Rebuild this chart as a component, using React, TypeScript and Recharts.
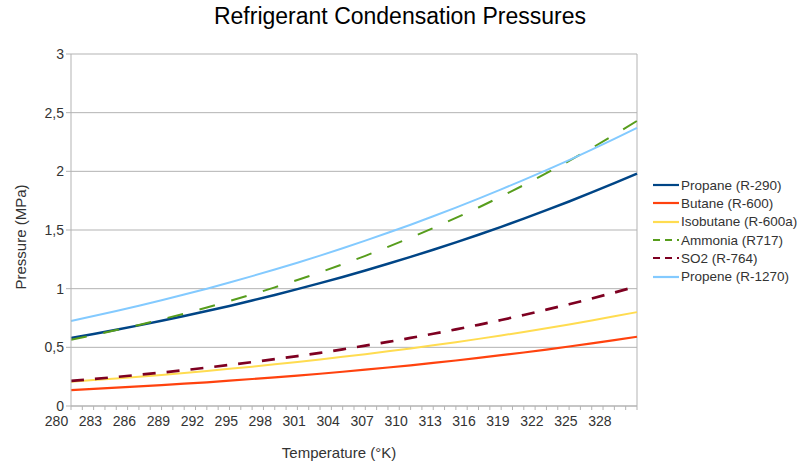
import { LineChart, Line, XAxis, YAxis, CartesianGrid, Legend, ReferenceLine } from "recharts";

// temperature in K, every 2 degrees
const temperatures = [280, 282, 284, 286, 288, 290, 292, 294, 296, 298, 300, 302, 304, 306, 308, 310, 312, 314, 316, 318, 320, 322, 324, 326, 328, 330];

// pressures in MPa
const propane = [0.58, 0.614, 0.65, 0.687, 0.726, 0.767, 0.809, 0.853, 0.899, 0.946, 0.996, 1.047, 1.1, 1.155, 1.212, 1.271, 1.332, 1.395, 1.46, 1.527, 1.597, 1.669, 1.743, 1.82, 1.899, 1.98];
const butane = [0.136, 0.146, 0.156, 0.167, 0.178, 0.19, 0.202, 0.216, 0.23, 0.244, 0.259, 0.275, 0.292, 0.31, 0.328, 0.347, 0.367, 0.388, 0.41, 0.433, 0.456, 0.481, 0.507, 0.533, 0.561, 0.59];
const isobutane = [0.207, 0.221, 0.235, 0.25, 0.265, 0.282, 0.299, 0.317, 0.335, 0.355, 0.375, 0.397, 0.419, 0.442, 0.466, 0.491, 0.517, 0.544, 0.572, 0.601, 0.631, 0.663, 0.695, 0.729, 0.764, 0.8];
const ammonia = [0.565, 0.605, 0.647, 0.691, 0.738, 0.787, 0.839, 0.894, 0.951, 1.011, 1.074, 1.139, 1.208, 1.28, 1.356, 1.434, 1.517, 1.603, 1.692, 1.785, 1.883, 1.984, 2.089, 2.198, 2.312, 2.43];
const so2 = [0.214, 0.23, 0.247, 0.266, 0.285, 0.305, 0.327, 0.35, 0.374, 0.399, 0.425, 0.453, 0.483, 0.514, 0.546, 0.58, 0.616, 0.653, 0.692, 0.733, 0.776, 0.821, 0.867, 0.916, 0.967, 1.02];
const propene = [0.725, 0.767, 0.81, 0.855, 0.901, 0.95, 1.0, 1.052, 1.107, 1.163, 1.221, 1.282, 1.344, 1.409, 1.476, 1.545, 1.617, 1.691, 1.767, 1.846, 1.927, 2.01, 2.096, 2.185, 2.276, 2.37];

const xTickLabels = [280, 283, 286, 289, 292, 295, 298, 301, 304, 307, 310, 313, 316, 319, 322, 325, 328];
const yTicks = [0, 0.5, 1, 1.5, 2, 2.5, 3];
const xMinorTicks = Array.from({ length: 51 }, (_, i) => 280 + i);

const series = [
  { key: "propane", name: "Propane (R-290)", color: "#004586", width: 2.5, dash: undefined, values: propane },
  { key: "butane", name: "Butane (R-600)", color: "#ff420e", width: 2.2, dash: undefined, values: butane },
  { key: "isobutane", name: "Isobutane (R-600a)", color: "#ffdc50", width: 2, dash: undefined, values: isobutane },
  { key: "ammonia", name: "Ammonia (R717)", color: "#579d1c", width: 2, dash: "16 17", values: ammonia },
  { key: "so2", name: "SO2 (R-764)", color: "#7e0021", width: 2.7, dash: "13 11", values: so2 },
  { key: "propene", name: "Propene (R-1270)", color: "#83caff", width: 2, dash: undefined, values: propene },
];

const data = temperatures.map((t, i) => {
  const row: Record<string, number> = { t };
  series.forEach((s) => (row[s.key] = s.values[i]));
  return row;
});

const GRID = "#b3b3b3";
const TEXT = "#333";

function XTick(props: any) {
  const { x, y, payload } = props;
  if (!xTickLabels.includes(payload.value)) return <g />;
  return (
    <text x={x - 14.5} y={y + 14} textAnchor="middle" fontSize={14} fill={TEXT}>
      {payload.value}
    </text>
  );
}

function LegendBox() {
  return (
    <div style={{ fontSize: 13.5, color: TEXT }}>
      {series.map((s) => (
        <div key={s.key} style={{ display: "flex", alignItems: "center", height: 18.3, whiteSpace: "nowrap" }}>
          <svg width={28} height={6} style={{ display: "block" }}>
            <line x1={0} y1={3} x2={26} y2={3} stroke={s.color} strokeWidth={2.2} strokeDasharray={s.dash ? "7 5" : undefined} />
          </svg>
          <span>{s.name}</span>
        </div>
      ))}
    </div>
  );
}

export default function App() {
  return (
    <div
      style={{
        position: "absolute",
        left: 0,
        top: 0,
        width: 807,
        height: 463,
        background: "#fff",
        fontFamily: '"Liberation Sans", Arial, sans-serif',
      }}
    >
      <div style={{ position: "absolute", left: 0, top: 5, width: 800, textAlign: "center", fontSize: 23, lineHeight: "23px", color: "#000" }}>
        Refrigerant Condensation Pressures
      </div>
      <LineChart width={807} height={463} data={data} margin={{ top: 54, right: 170, bottom: 27, left: 0 }}>
        <CartesianGrid vertical={false} stroke={GRID} />
        <ReferenceLine x={330} stroke={GRID} />
        <XAxis
          dataKey="t"
          type="number"
          domain={[280, 330]}
          ticks={xMinorTicks}
          interval={0}
          tickSize={4}
          height={30}
          tick={<XTick />}
          axisLine={{ stroke: GRID }}
          tickLine={{ stroke: GRID }}
          label={{ value: "Temperature (°K)", position: "bottom", offset: 11, dx: -15, fontSize: 15, fill: TEXT }}
        />
        <YAxis
          domain={[0, 3]}
          ticks={yTicks}
          width={71}
          tickSize={5}
          tickFormatter={(v: number) => String(v).replace(".", ",")}
          tick={{ fill: TEXT, fontSize: 14 }}
          axisLine={{ stroke: GRID }}
          tickLine={{ stroke: GRID }}
          label={{ value: "Pressure (MPa)", angle: -90, position: "center", dx: -14.5, dy: 7, fontSize: 15, fill: TEXT }}
        />
        <Legend
          layout="vertical"
          align="center"
          verticalAlign="middle"
          content={<LegendBox />}
          wrapperStyle={{ left: 653, top: 176, width: 160 }}
        />
        {series.map((s) => (
          <Line
            key={s.key}
            dataKey={s.key}
            name={s.name}
            type="linear"
            stroke={s.color}
            strokeWidth={s.width}
            strokeDasharray={s.dash}
            dot={false}
            activeDot={false}
            isAnimationActive={false}
          />
        ))}
      </LineChart>
    </div>
  );
}
